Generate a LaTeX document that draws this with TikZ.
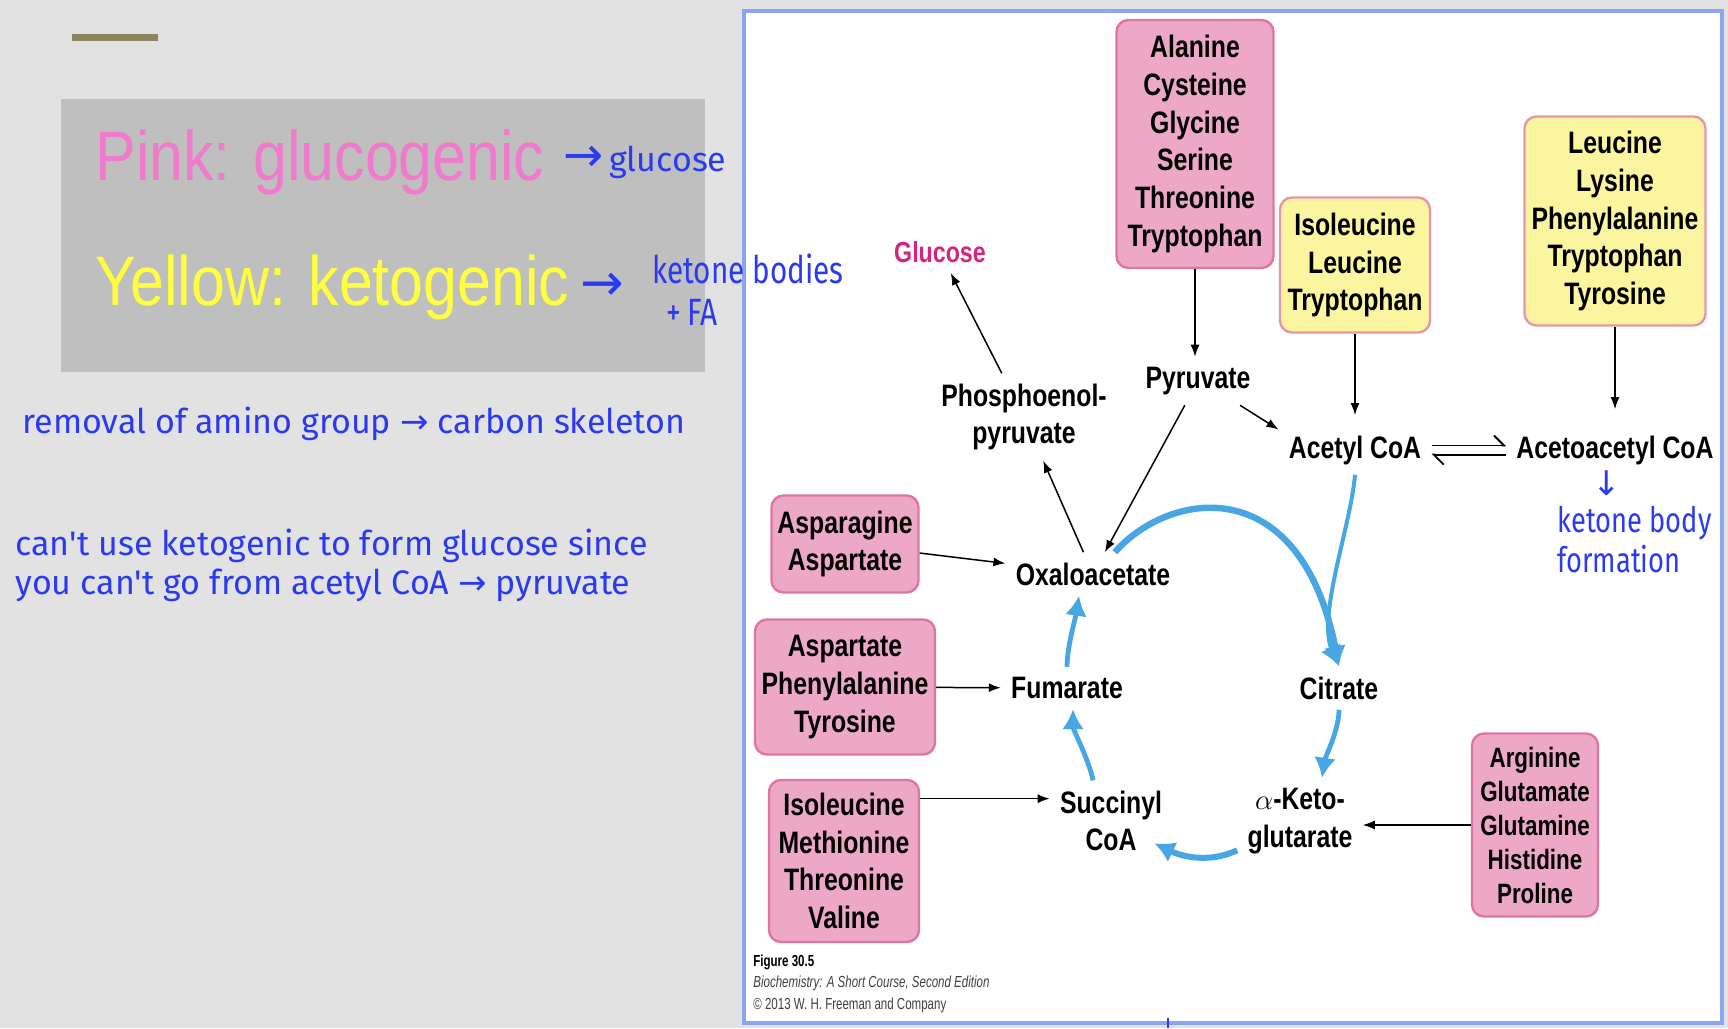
\documentclass[tikz,border=0pt]{standalone}
\usepackage{fontspec}
\setmainfont{Liberation Sans}
\newfontfamily\figfont[FakeStretch=0.8]{Liberation Sans}
\newfontfamily\slidefont[FakeStretch=0.87]{Liberation Sans}
\newfontfamily\capfont[FakeStretch=0.72]{Liberation Sans}
\newfontfamily\handfont{Fira Sans}
\newfontfamily\narrowhand[FakeStretch=0.78]{Fira Sans}
\newfontfamily\symfont{DejaVu Sans}
\usetikzlibrary{arrows.meta,positioning,calc}
\definecolor{SlideGrey}{RGB}{226,226,226}
\definecolor{BoxGrey}{RGB}{191,191,191}
\definecolor{BarOlive}{RGB}{138,134,96}
\definecolor{PinkText}{RGB}{240,122,204}
\definecolor{YellowText}{RGB}{255,255,64}
\definecolor{InkBlue}{RGB}{42,58,240}
\definecolor{PanelEdge}{RGB}{140,165,240}
\definecolor{GlucoFill}{RGB}{236,168,198}
\definecolor{GlucoEdge}{RGB}{222,118,165}
\definecolor{KetoFill}{RGB}{252,245,160}
\definecolor{KetoEdge}{RGB}{230,150,170}
\definecolor{CycleBlue}{RGB}{72,166,228}
\definecolor{GlucoseRed}{RGB}{212,38,122}

\begin{document}
\begin{tikzpicture}[x=0.5pt,y=-0.5pt,node distance=4pt and 8pt,
  glucobox/.style={draw=GlucoEdge,fill=GlucoFill,rounded corners=6pt,line width=1.2pt,
    align=center,inner sep=2pt,font=\figfont\bfseries\fontsize{15.5}{18.9}\selectfont},
  ketobox/.style={glucobox,draw=KetoEdge,fill=KetoFill},
  metab/.style={align=center,inner sep=5pt,font=\figfont\bfseries\fontsize{15.5}{18.9}\selectfont},
  flow/.style={-{Latex[length=6pt,width=4.5pt]},line width=0.75pt},
  cyc/.style={CycleBlue,line width=2.6pt,-{Latex[length=10pt,width=11pt]}},
  slidetext/.style={font=\slidefont\fontsize{35}{40}\selectfont,inner sep=0pt},
  note/.style={InkBlue,font=\handfont\fontsize{17}{19.5}\selectfont,inner sep=0pt,align=left}]
\fill[SlideGrey] (0,0) rectangle (1728,1028);
\useasboundingbox (0,0) rectangle (1728,1028);
\fill[BarOlive] (72,34) rectangle (158,41);
\fill[BoxGrey] (61,99) rectangle (705,372);
\draw[PanelEdge,fill=white,line width=1.6pt] (744,11) rectangle (1722,1023);
\draw[InkBlue,line width=1pt] (1168,1018) -- (1168,1028);

\node[slidetext,text=PinkText,anchor=west] (pinklbl) at (95,162) {Pink: glucogenic};
\node[note,right=9pt of pinklbl] (glucnote) {{\symfont\fontsize{24}{24}\selectfont →}\,glucose};
\node[slidetext,text=YellowText,anchor=west] (yellowlbl) at (95,287) {Yellow: ketogenic};
\node[note,right=5pt of yellowlbl,font=\symfont\fontsize{26}{26}\selectfont] (ketoarrow) {→};
\node[note,anchor=west,font=\narrowhand\fontsize{19}{21}\selectfont] (ketonote) at (652,290) {ketone bodies\\\hspace{7pt}+\,FA};
\node[note,anchor=west] (skelnote) at (22,424) {removal of amino group {\symfont →} carbon skeleton};
\node[note,anchor=west] (whynote) at (15,565)
  {can't use ketogenic to form glucose since\\you can't go from acetyl CoA {\symfont →} pyruvate};

\node[glucobox,minimum width=78.5pt,minimum height=124pt] (alabox) at (1195,144)
  {Alanine\\Cysteine\\Glycine\\Serine\\Threonine\\Tryptophan};
\node[ketobox,minimum width=75pt,minimum height=67.5pt] (isobox) at (1355,265)
  {Isoleucine\\Leucine\\Tryptophan};
\node[ketobox,minimum width=90.5pt,minimum height=104.5pt] (leubox) at (1615,221)
  {Leucine\\Lysine\\Phenylalanine\\Tryptophan\\Tyrosine};
\node[glucobox,minimum width=73.5pt,minimum height=48.5pt] (asnbox) at (845,544)
  {Asparagine\\Aspartate};
\node[glucobox,minimum width=90pt,minimum height=67.5pt] (aspbox) at (845,687)
  {Aspartate\\Phenylalanine\\Tyrosine};
\node[glucobox,minimum width=75pt,minimum height=81pt] (ilebox) at (844,861)
  {Isoleucine\\Methionine\\Threonine\\Valine};
\node[glucobox,minimum width=63pt,minimum height=91.5pt,
  font=\figfont\bfseries\fontsize{14}{17}\selectfont] (argbox) at (1535,825)
  {Arginine\\Glutamate\\Glutamine\\Histidine\\Proline};

\node[metab,text=GlucoseRed,font=\figfont\bfseries\fontsize{14.5}{17}\selectfont] (glucose) at (940,252) {Glucose};
\node[metab] (pep) at (1024,417) {Phosphoenol-\\pyruvate};
\node[metab] (pyr) at (1198,381) {Pyruvate};
\node[metab] (acetyl) at (1355,450) {Acetyl CoA};
\node[metab] (acac) at (1615,450) {Acetoacetyl CoA};
\node[metab] (oxalo) at (1093,574) {Oxaloacetate};
\node[metab] (fum) at (1067,688) {Fumarate};
\node[metab] (citrate) at (1339,688) {Citrate};
\node[metab] (succ) at (1111,821) {Succinyl\\CoA};
\node[metab] (akg) at (1300,821) {$\alpha$-Keto-\\glutarate};

\node[note,font=\symfont\fontsize{17}{17}\selectfont] (kbarrow) at (1607,483) {↓};
\node[note,anchor=west,font=\narrowhand\fontsize{17.5}{20}\selectfont] (kbnote) at (1557,540) {ketone body\\formation};

\node[anchor=north west,inner sep=0pt,font=\capfont\bfseries\fontsize{8}{9}\selectfont] (figno) at (753,954) {Figure 30.5};
\node[below=3pt of figno.south west,anchor=north west,inner sep=0pt,text=black!75,
  font=\capfont\itshape\fontsize{8}{9}\selectfont] (figbook) {Biochemistry: A Short Course, Second Edition};
\node[below=3pt of figbook.south west,anchor=north west,inner sep=0pt,text=black!75,
  font=\capfont\fontsize{8}{9}\selectfont] (figcopy) {\textcopyright\ 2013 W. H. Freeman and Company};

\draw[cyc,line width=3.2pt] (oxalo.45) .. controls (1170,490) and (1300,470) .. (citrate.north);
\draw[cyc,line width=2pt] (acetyl.south) .. controls +(-4,50) and +(-22,-50) .. (citrate.north);
\draw[cyc,line width=2.4pt] (citrate.south) .. controls +(0,20) and +(3,-20) .. ([xshift=11pt]akg.north);
\draw[cyc,line width=3pt] (akg.205) .. controls +(-30,14) and +(25,12) .. ([xshift=-9pt]succ.-20);
\draw[cyc,line width=2.4pt] ([xshift=-9pt]succ.north) .. controls +(-4,-20) and +(0,20) .. ([xshift=3pt]fum.south);
\draw[cyc,line width=2.4pt] (fum.north) .. controls +(0,-20) and +(-3,20) .. ([xshift=-7pt]oxalo.south);

\draw[flow] (alabox.south) -- (alabox.south |- pyr.north);
\draw[flow] (isobox.south) -- ([yshift=5pt]acetyl.north);
\draw[flow] (leubox.south) -- ([yshift=8pt]acac.north);
\draw[flow] (pyr.-30) -- (acetyl.165);
\draw[flow] (pep) -- (glucose);
\draw[flow] (oxalo) -- (pep);
\draw[flow] (pyr) -- (oxalo);
\draw[flow] (asnbox) -- (oxalo);
\draw[flow] (aspbox) -- (fum);
\draw[flow] (ilebox.east |- succ.160) -- (succ.160);
\draw[flow] (argbox.west) -- (akg.east |- argbox.west);
\draw[line width=0.9pt,-{Straight Barb[harpoon,length=5pt]}] ([yshift=2.3pt]acetyl.east) -- ([yshift=2.3pt]acac.west);
\draw[line width=0.9pt,-{Straight Barb[harpoon,length=5pt]}] ([yshift=-2.3pt]acac.west) -- ([yshift=-2.3pt]acetyl.east);
\end{tikzpicture}
\end{document}
